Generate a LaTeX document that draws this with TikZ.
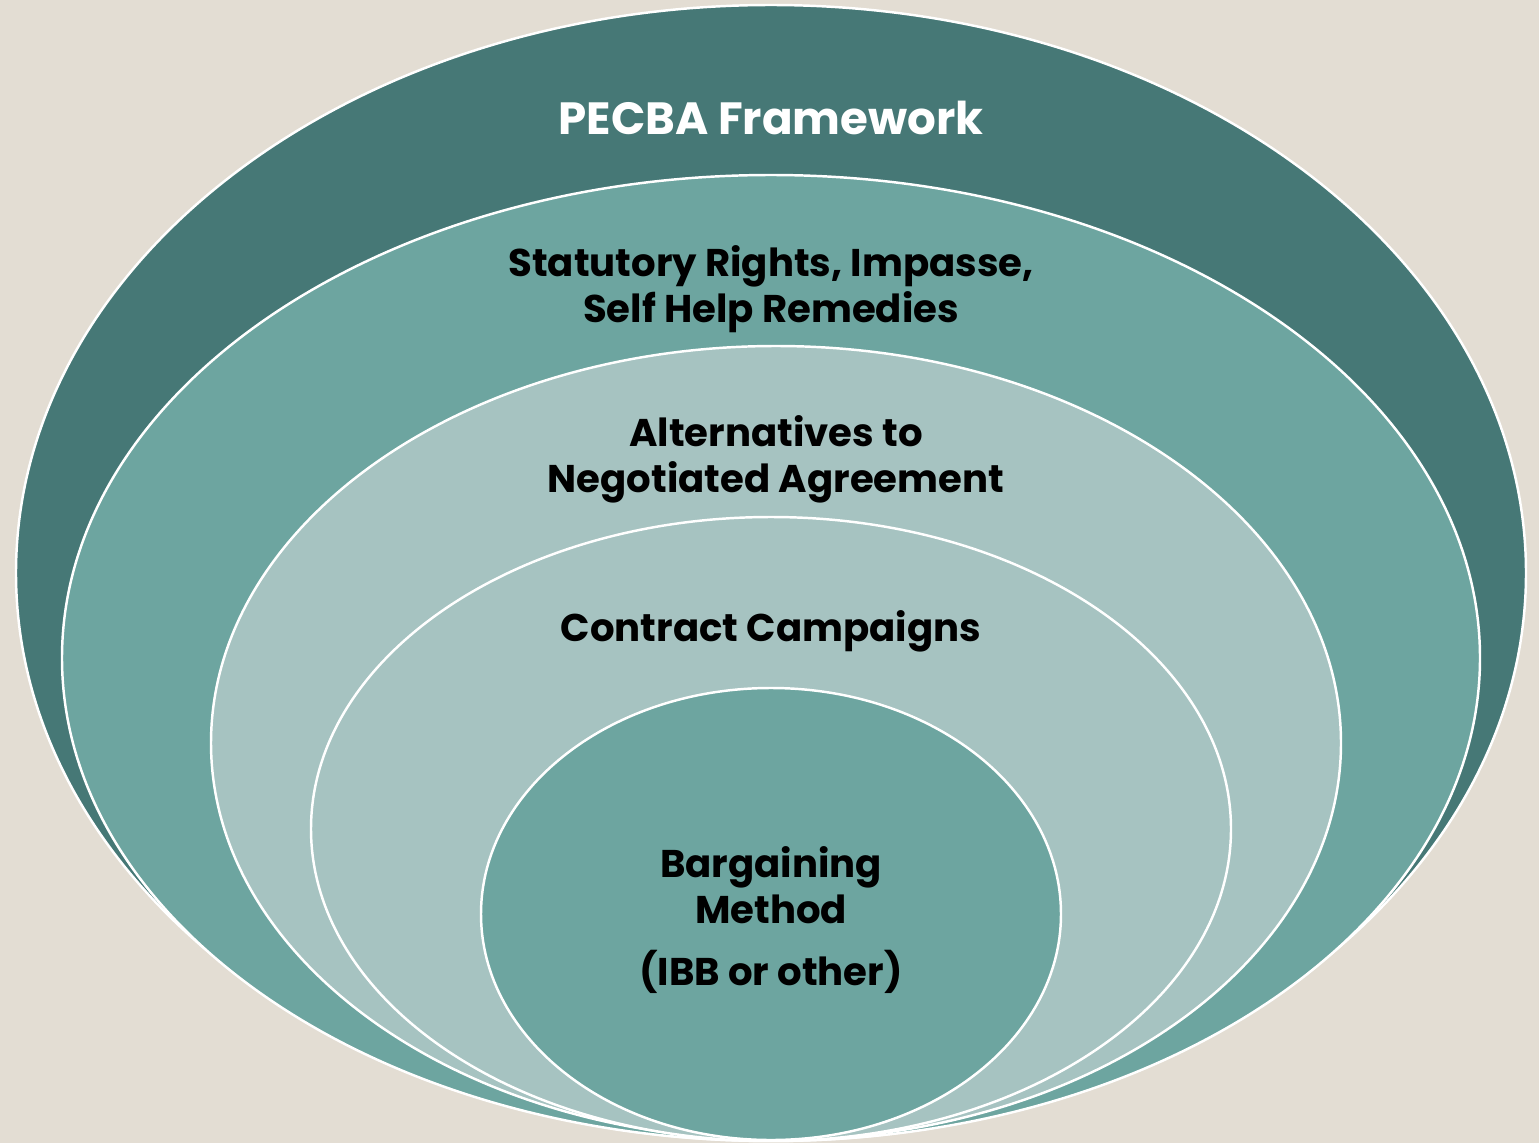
\documentclass[tikz,border=0pt]{standalone}
\usepackage{fontspec}
\setmainfont{Poppins}
\definecolor{paper}{HTML}{E3DDD3}
\definecolor{tealdark}{HTML}{467876}
\definecolor{tealmid}{HTML}{6DA5A0}
\definecolor{teallight}{HTML}{A6C3C1}
\tikzset{
    ring/.style = {draw=white, line width=1.4pt},
    caption/.style = {align=center, font=\fontsize{22}{26}\selectfont\bfseries, text=black, inner sep=0pt},
}
\begin{document}
\begin{tikzpicture}[x=0.02cm, y=0.02cm]
    \fill [paper] (0,0) rectangle (1539,-1143);
    \useasboundingbox (0,0) rectangle (1539,-1143);

    % rings, outer to inner
    \filldraw [ring, fill=tealdark]  (771,-573) ellipse [x radius=755, y radius=568];
    \filldraw [ring, fill=tealmid]   (771,-658) ellipse [x radius=709, y radius=483];
    \filldraw [ring, fill=teallight] (776,-743) ellipse [x radius=565, y radius=397];
    \filldraw [ring, fill=teallight] (771,-829) ellipse [x radius=460, y radius=312];
    \filldraw [ring, fill=tealmid]   (771,-914) ellipse [x radius=290, y radius=226];

    \node[caption, text=white, font=\fontsize{25.7}{28}\selectfont\bfseries] (pecba) at (771,-118) {PECBA Framework};
    \node[caption] (statutory) at (771,-289) {Statutory Rights, Impasse,\\Self Help Remedies};
    \node[caption] (alternatives) at (776,-459) {Alternatives to\\Negotiated Agreement};
    \node[caption] (campaigns) at (771,-631) {Contract Campaigns};
    \node[caption] (method) at (771,-885) {Bargaining\\Method};
    \node[caption] (ibb) at (771,-972) {(IBB or other)};
\end{tikzpicture}
\end{document}
